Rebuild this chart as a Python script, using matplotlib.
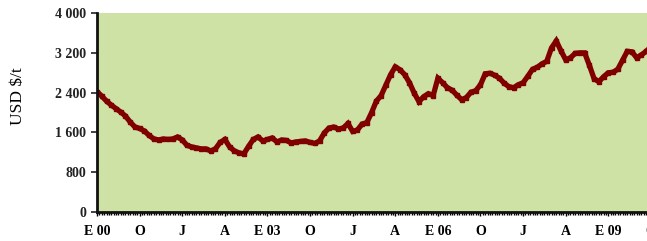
import matplotlib
matplotlib.use("Agg")
import matplotlib.pyplot as plt
from matplotlib.ticker import MultipleLocator, FixedLocator
import numpy as np

# Monthly prices (USD $/t), Jan 2000 onwards
months = list(range(118))
prices = [
    2420, 2330, 2230, 2150, 2080, 2010, 1930, 1810, 1710, 1680,
    1630, 1540, 1470, 1450, 1470, 1460, 1470, 1510, 1450, 1340,
    1310, 1290, 1270, 1270, 1230, 1270, 1400, 1460, 1310, 1230,
    1190, 1170, 1320, 1460, 1510, 1430, 1460, 1490, 1410, 1450,
    1440, 1390, 1410, 1420, 1430, 1400, 1380, 1430, 1590, 1690,
    1710, 1670, 1690, 1780, 1620, 1650, 1770, 1800, 2000, 2230,
    2340, 2550, 2760, 2920, 2860, 2760, 2600, 2390, 2220, 2320,
    2380, 2340, 2690, 2600, 2500, 2450, 2350, 2260, 2300, 2410,
    2440, 2560, 2780, 2790, 2750, 2690, 2590, 2520, 2500, 2560,
    2600, 2730, 2870, 2910, 2980, 3030, 3300, 3440, 3240, 3060,
    3100, 3190, 3200, 3200, 2950, 2680, 2620, 2720, 2800, 2810,
    2870, 3050, 3230, 3220, 3100, 3160, 3230, 3320,
]

xtick_pos = [0, 9, 18, 27, 36, 45, 54, 63, 72, 81, 90, 99, 108, 117]
xtick_labels = ["E 00", "O", "J", "A", "E 03", "O", "J", "A",
                "E 06", "O", "J", "A", "E 09", "O"]
ytick_vals = [0, 800, 1600, 2400, 3200, 4000]
ytick_labels = ["0", "800", "1 600", "2 400", "3 200", "4 000"]

fig = plt.figure(figsize=(6.47, 2.41), dpi=100)
ax = fig.add_axes([0.150, 0.120, 0.878, 0.826])
ax.set_facecolor("#CFE2A5")

ax.plot(months, prices, color="#800000", lw=3.8, marker="s", ms=3.5,
        mec="#800000", mfc="#800000", solid_joinstyle="miter")

ax.set_xlim(0, 120)
ax.set_ylim(0, 4000)

serif = ["Liberation Serif", "DejaVu Serif"]
ax.yaxis.set_major_locator(FixedLocator(ytick_vals))
ax.set_yticklabels(ytick_labels, fontfamily=serif, fontweight="bold", fontsize=10)
ax.xaxis.set_major_locator(FixedLocator(xtick_pos))
ax.set_xticklabels(xtick_labels, fontfamily=serif, fontweight="bold", fontsize=10)
ax.xaxis.set_minor_locator(MultipleLocator(0.5))

ax.tick_params(axis="y", direction="out", length=4, width=1.2, pad=4, colors="#222222")
ax.tick_params(axis="x", which="major", direction="out", length=3, width=1, pad=6)
ax.tick_params(axis="x", which="minor", direction="out", length=2.5, width=1)

for s in ["top", "right"]:
    ax.spines[s].set_visible(False)
for s in ["left", "bottom"]:
    ax.spines[s].set_linewidth(2)
    ax.spines[s].set_color("#111111")

ax.set_ylabel("USD $/t", fontfamily=serif, fontsize=12.5)
ax.yaxis.set_label_coords(-0.125, 0.583)

fig.savefig("out.png", dpi=100)
